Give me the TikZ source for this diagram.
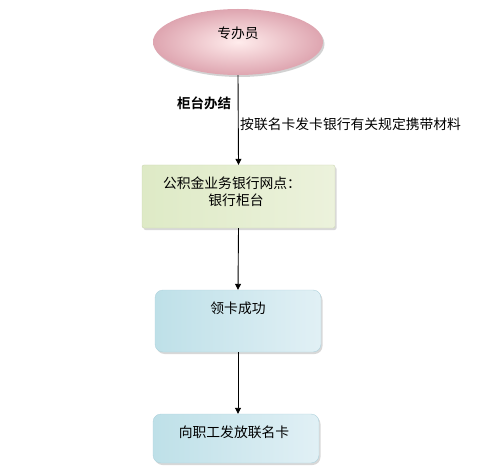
\documentclass[tikz,border=0pt]{standalone}
\usepackage{fontspec}
\newfontfamily\cjk{Noto Sans CJK SC}
\newfontfamily\cjkb{Noto Sans CJK SC Bold}
\usetikzlibrary{shadows,arrows.meta,shapes.geometric}
\tikzset{
  txt/.style={font=\cjk\fontsize{13.8}{17}\selectfont, text=black},
  pinkell/.style={ellipse, draw=none, minimum width=170pt, minimum height=66pt,
    inner color=pink!30!white, outer color={rgb,255:red,222;green,165;blue,176},
    drop shadow={shadow xshift=1.5pt, shadow yshift=-2pt, fill=black!35}},
  greenbox/.style={rectangle, rounded corners=2pt, draw={rgb,255:red,205;green,215;blue,180},
    minimum width=193pt, minimum height=63pt,
    left color={rgb,255:red,222;green,234;blue,198}, right color={rgb,255:red,236;green,242;blue,220},
    drop shadow={shadow xshift=1.5pt, shadow yshift=-2pt, fill=black!30}},
  bluebox/.style={rectangle, rounded corners=8pt, draw={rgb,255:red,175;green,210;blue,220},
    minimum width=166pt, minimum height=62pt,
    left color={rgb,255:red,190;green,224;blue,232}, right color={rgb,255:red,225;green,240;blue,245},
    drop shadow={shadow xshift=1.5pt, shadow yshift=-2pt, fill=black!30}},
  conn/.style={draw=black, line width=0.9pt, -{Triangle[length=6pt,width=6pt]}},
}
\begin{document}
\begin{tikzpicture}[x=1pt,y=-1pt]
\useasboundingbox (0,0) rectangle (479,473);
\node[pinkell] (ell) at (238,42) {};
\node[txt] (ellt) at (238,33) {专办员};
\node[greenbox] (g) at (238.5,196.5) {};
\node[txt, align=center] (gt) at (232,192) {公积金业务银行网点：\\\hspace*{8pt}银行柜台};
\node[bluebox] (b1) at (238,321) {};
\node[txt] (b1t) at (238,308) {领卡成功};
\node[bluebox, minimum height=49pt] (b2) at (236,438.5) {};
\node[txt] (b2t) at (234,432) {向职工发放联名卡};
\node[font=\cjkb\fontsize{13.5}{16}\selectfont] (lab1) at (204,103) {柜台办结};
\node[txt, anchor=west, inner sep=0pt] (lab2) at (240,124) {按联名卡发卡银行有关规定携带材料};
\draw[conn] (ell.south) -- (g.north);
\draw[conn] (g.south) -- (b1.north);
\draw[conn] (b1.south) -- (b2.north -| b1.south);
\end{tikzpicture}
\end{document}
